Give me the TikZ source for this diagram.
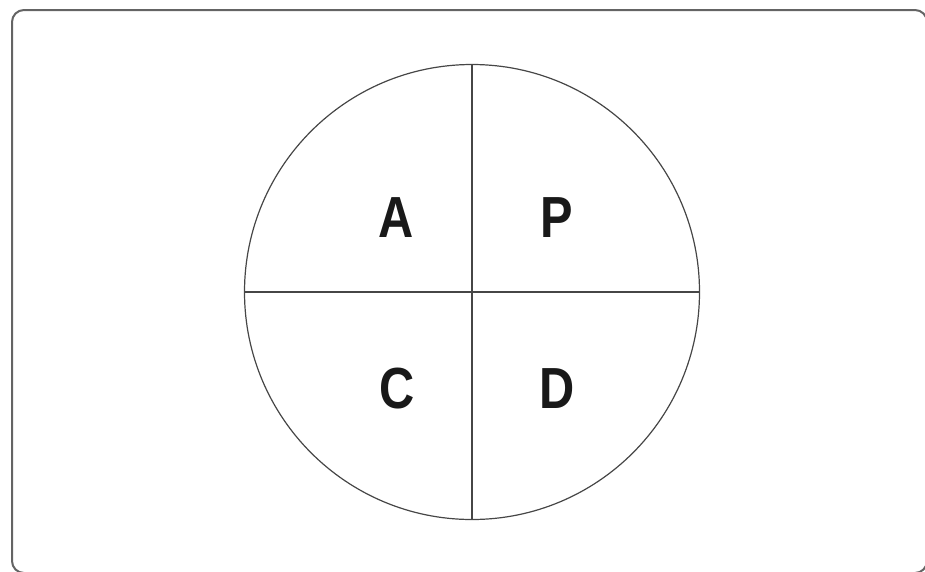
\documentclass[tikz,border=0pt]{standalone}
\usepackage{fontspec}
\setmainfont{Liberation Sans}
\usetikzlibrary{positioning}
\definecolor{frame_gray}{RGB}{100, 100, 100}
\definecolor{line_gray}{RGB}{70, 70, 70}
\newcommand{\narrowletter}[1]{\scalebox{0.84}[1]{#1}}

\begin{document}
\begin{tikzpicture}[x=1pt, y=-1pt,
      disc/.style={draw=line_gray, line width=1.2pt, circle, minimum size=455pt, inner sep=0pt, outer sep=0pt},
      quad/.style={font=\fontsize{58}{58}\selectfont\bfseries, inner sep=0pt, text=black!90}]
    \useasboundingbox (0,0) rectangle (925,571);
    \draw[frame_gray, line width=2pt, rounded corners=12pt] (12,10) rectangle (927,573);
    \node[disc] (circ) at (472,292) {};
    \draw[line_gray, line width=1.2pt] (circ.north) -- (circ.south);
    \draw[line_gray, line width=1.2pt] (circ.west) -- (circ.east);
    \node[quad] (act)  at (396,218) {\narrowletter{A}};
    \node[quad] (plan) at (557,218) {\narrowletter{P}};
    \node[quad] (chk)  at (397,389) {\narrowletter{C}};
    \node[quad] (do)   at (557,389) {\narrowletter{D}};
  \end{tikzpicture}
\end{document}
